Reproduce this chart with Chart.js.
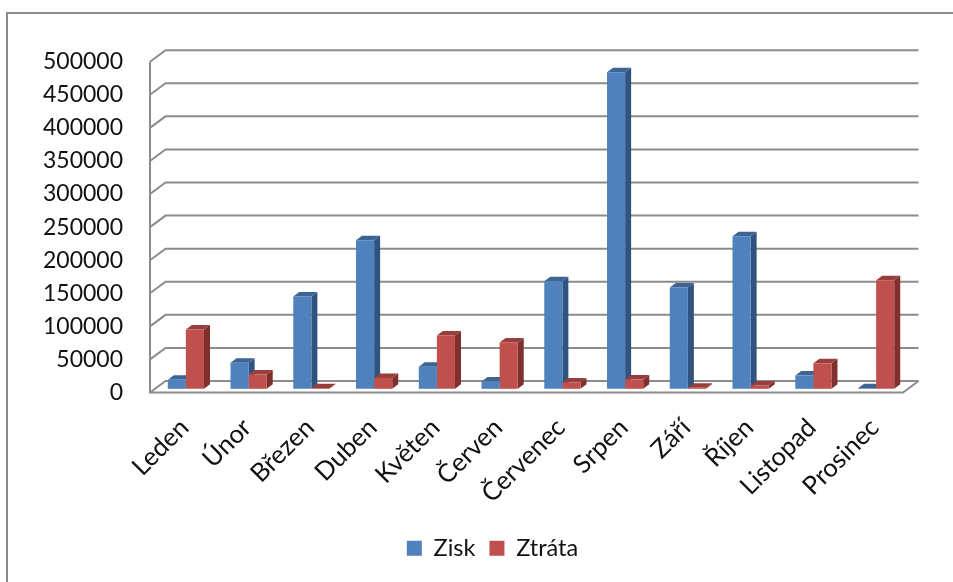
<!doctype html>
<html lang="cs">
<head>
<meta charset="utf-8">
<title>Zisk a ztráta</title>
<script src="https://cdn.jsdelivr.net/npm/chart.js@4/dist/chart.umd.js"></script>
<style>
  html, body { margin: 0; padding: 0; background: #fff; }
  canvas { display: block; }
</style>
</head>
<body>
<canvas id="graf" width="953" height="582"></canvas>
<script>
var mesice = ['Leden', 'Únor', 'Březen', 'Duben', 'Květen', 'Červen', 'Červenec', 'Srpen', 'Září', 'Říjen', 'Listopad', 'Prosinec'];
var zisk = [13500, 39500, 139500, 224500, 33500, 11000, 162500, 478500, 153000, 230500, 20000, 1000];
var ztrata = [89500, 21500, 1000, 16500, 80500, 70000, 9500, 14000, 1500, 5000, 38500, 164000];

var PISMO = 'Lato, "Open Sans", sans-serif';
var CARA = '#8c8c8c';

// hloubka podlahy a sloupcu (falesne 3D)
var hloubka = { x: 15.5, y: 11.5 };
var posun = { x: 4.5, y: 3.7 };
var sloupec = { x: 6, y: 4.5 };

var barvy = [
  { predek: '#4f81bd', bok: '#2f5480', vrch: '#3c6494' },
  { predek: '#c0504d', bok: '#7f2f2d', vrch: '#983f3c' }
];

function usecka(ctx, body) {
  ctx.beginPath();
  body.forEach(function (b, i) {
    if (i === 0) ctx.moveTo(b[0], b[1]);
    else ctx.lineTo(b[0], b[1]);
  });
  ctx.stroke();
}

function plocha(ctx, barva, body) {
  ctx.fillStyle = barva;
  ctx.beginPath();
  body.forEach(function (b, i) {
    if (i === 0) ctx.moveTo(b[0], b[1]);
    else ctx.lineTo(b[0], b[1]);
  });
  ctx.closePath();
  ctx.fill();
}

var prostor3d = {
  id: 'prostor3d',
  beforeDraw: function (chart) {
    var ctx = chart.ctx;
    ctx.save();
    ctx.strokeStyle = CARA;
    ctx.lineWidth = 2;
    usecka(ctx, [[7, 582], [7, 13], [953, 13]]);
    ctx.restore();
  },
  // mrizka na zadni stene, leva stena, podlaha a boky sloupcu
  beforeDatasetsDraw: function (chart) {
    var ctx = chart.ctx;
    var y = chart.scales.y;
    var a = chart.chartArea;
    ctx.save();
    ctx.strokeStyle = CARA;
    ctx.lineWidth = 2;
    y.ticks.forEach(function (t, i) {
      var py = y.getPixelForTick(i);
      usecka(ctx, [[a.left, py], [a.left + hloubka.x, py - hloubka.y], [a.right + hloubka.x, py - hloubka.y]]);
    });
    usecka(ctx, [[a.left, a.top], [a.left, a.bottom], [a.right, a.bottom], [a.right + hloubka.x, a.bottom - hloubka.y]]);

    // nejdriv modre, pres ne cervene
    ctx.translate(posun.x, -posun.y);
    [0, 1].forEach(function (d) {
      var b = barvy[d];
      chart.getDatasetMeta(d).data.forEach(function (el) {
        var l = el.x - el.width / 2, r = el.x + el.width / 2;
        plocha(ctx, b.bok, [[r, el.y], [r + sloupec.x, el.y - sloupec.y], [r + sloupec.x, el.base - sloupec.y], [r, el.base]]);
        plocha(ctx, b.vrch, [[l, el.y], [r, el.y], [r + sloupec.x, el.y - sloupec.y], [l + sloupec.x, el.y - sloupec.y]]);
      });
    });
    ctx.restore();
  },
  // predni stenu kresli Chart.js, jen posunutou do hloubky
  beforeDatasetDraw: function (chart) {
    chart.ctx.save();
    chart.ctx.translate(posun.x, -posun.y);
  },
  afterDatasetDraw: function (chart) {
    chart.ctx.restore();
  }
};

new Chart(document.getElementById('graf').getContext('2d'), {
  type: 'bar',
  data: {
    labels: mesice,
    datasets: [
      { label: 'Zisk', data: zisk, backgroundColor: barvy[0].predek, clip: false },
      { label: 'Ztráta', data: ztrata, backgroundColor: barvy[1].predek, clip: false }
    ]
  },
  options: {
    responsive: false,
    animation: false,
    categoryPercentage: 0.577,
    barPercentage: 1,
    layout: { padding: { left: 32, right: 0, top: 61.7, bottom: 12 } },
    plugins: {
      tooltip: { enabled: false },
      legend: {
        position: 'bottom',
        labels: {
          boxWidth: 15, boxHeight: 15, padding: 14,
          color: '#111',
          font: { family: PISMO, size: 23.5 }
        }
      }
    },
    scales: {
      x: {
        grid: { display: false },
        border: { display: false },
        afterFit: function (s) { s.height = 130; },
        ticks: {
          autoSkip: false, minRotation: 45, maxRotation: 45,
          padding: 12, labelOffset: 3, color: '#111',
          font: { family: PISMO, size: 25.5 }
        }
      },
      y: {
        min: 0, max: 500000,
        grid: { display: false },
        border: { display: false },
        afterFit: function (s) { s.width = 118; },
        ticks: {
          stepSize: 50000, padding: 19, color: '#111',
          font: { family: PISMO, size: 23 },
          callback: function (v) { return String(v); }
        }
      },
      // prazdny okraj vpravo, kam zasahuje hloubka podlahy
      okraj: {
        position: 'right',
        grid: { display: false },
        border: { display: false },
        ticks: { display: false },
        afterFit: function (s) { s.width = 50; }
      }
    }
  },
  plugins: [prostor3d]
});
</script>
</body>
</html>
